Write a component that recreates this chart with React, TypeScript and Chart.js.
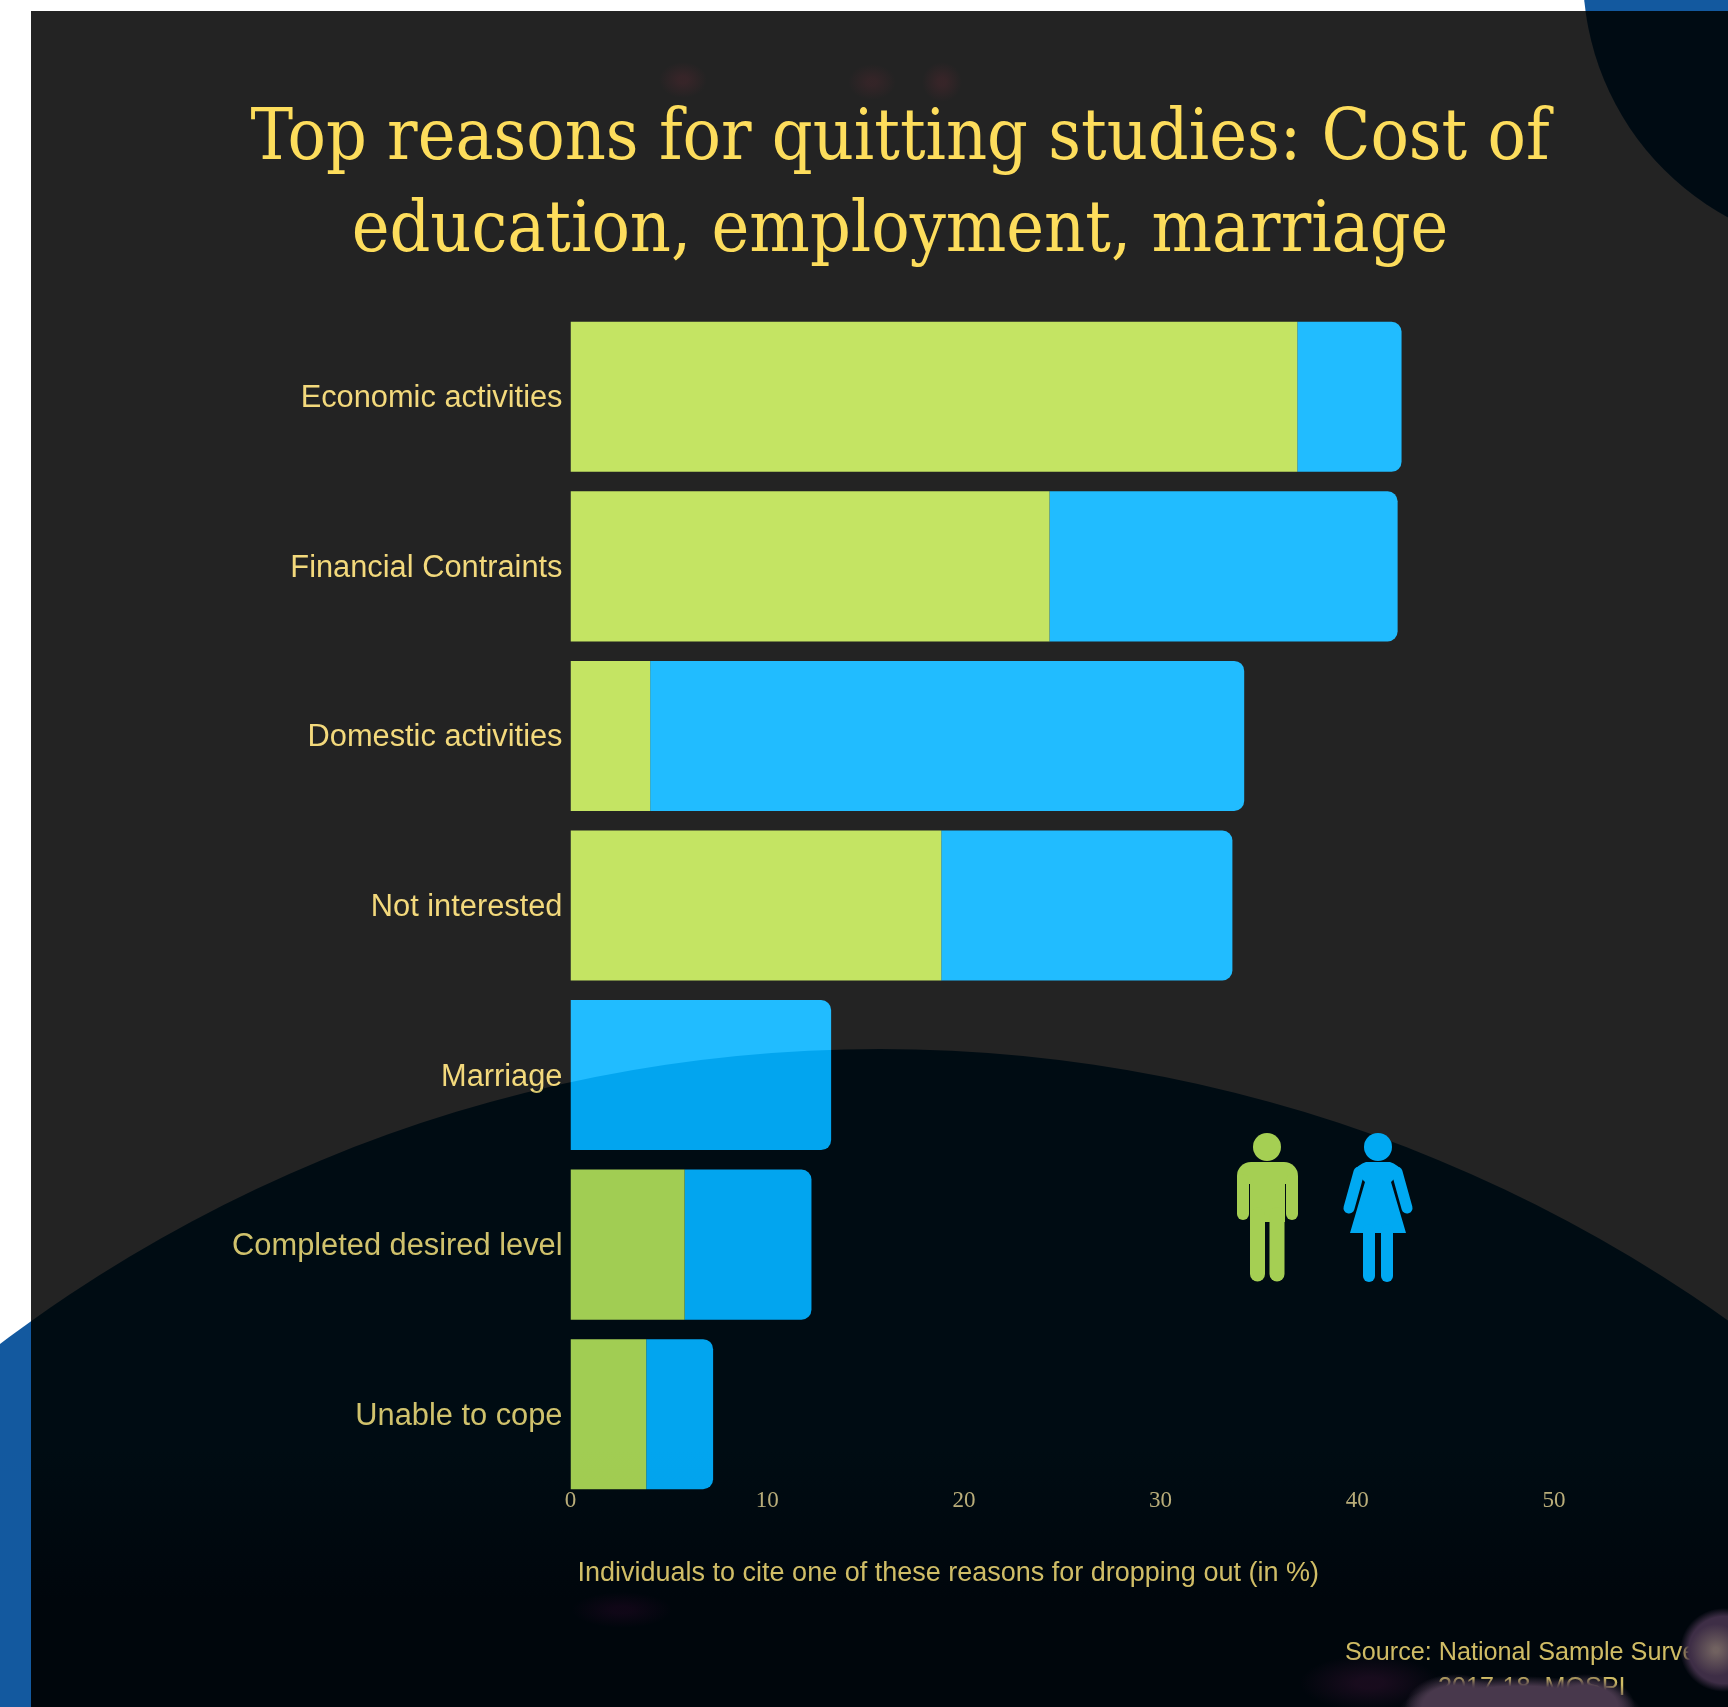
import React, { useEffect, useRef } from "react";
import { Chart, registerables } from "chart.js";

Chart.register(...registerables);

const categories = [
  "Economic activities",
  "Financial Contraints",
  "Domestic activities",
  "Not interested",
  "Marriage",
  "Completed desired level",
  "Unable to cope",
];
const maleShare = [36.95, 24.35, 4.05, 18.85, 0, 5.8, 3.85];
const femaleShare = [5.3, 17.7, 30.2, 14.8, 13.25, 6.45, 3.4];
const xTicks = [0, 10, 20, 30, 40, 50];
const titleLines = ["Top reasons for quitting studies: Cost of", "education, employment, marriage"];
const xAxisTitle = "Individuals to cite one of these reasons for dropping out (in %)";
const sourceLines = ["Source: National Sample Survey", "2017-18, MOSPI"];

const W = 1728;
const H = 1707;
const GOLD = "#f3d97c";
const SANS = "'Liberation Sans', Arial, sans-serif";
const SERIF = "'Liberation Serif', 'Times New Roman', serif";
const TITLE_SERIF = "'DejaVu Serif Condensed', 'DejaVu Serif', serif";

function bigCircle(ctx: CanvasRenderingContext2D) {
  ctx.beginPath();
  ctx.arc(880, 2509, 1460, 0, Math.PI * 2);
}
function cornerCircle(ctx: CanvasRenderingContext2D) {
  ctx.beginPath();
  ctx.arc(1860, -26, 277, 0, Math.PI * 2);
}

function blob(
  ctx: CanvasRenderingContext2D,
  cx: number,
  cy: number,
  rx: number,
  ry: number,
  color: string,
  solidStop: number,
  alpha: number
) {
  ctx.save();
  ctx.translate(cx, cy);
  ctx.scale(rx, ry);
  const g = ctx.createRadialGradient(0, 0, 0, 0, 0, 1);
  g.addColorStop(0, `rgba(${color},${alpha})`);
  g.addColorStop(solidStop, `rgba(${color},${alpha})`);
  g.addColorStop(1, `rgba(${color},0)`);
  ctx.fillStyle = g;
  ctx.beginPath();
  ctx.arc(0, 0, 1, 0, Math.PI * 2);
  ctx.fill();
  ctx.restore();
}

function roundedLine(ctx: CanvasRenderingContext2D, pts: number[][], width: number) {
  ctx.lineWidth = width;
  ctx.lineCap = "round";
  ctx.lineJoin = "round";
  ctx.beginPath();
  pts.forEach((p, i) => (i ? ctx.lineTo(p[0], p[1]) : ctx.moveTo(p[0], p[1])));
  ctx.stroke();
}

function drawMan(ctx: CanvasRenderingContext2D, color: string) {
  ctx.fillStyle = color;
  ctx.strokeStyle = color;
  ctx.beginPath();
  ctx.arc(1267, 1147, 14, 0, Math.PI * 2);
  ctx.fill();
  ctx.beginPath();
  ctx.roundRect(1237, 1162, 61, 22, [14, 14, 0, 0]);
  ctx.fill();
  ctx.fillRect(1250, 1180, 35, 42);
  roundedLine(ctx, [[1243, 1180], [1243, 1214]], 12);
  roundedLine(ctx, [[1292, 1180], [1292, 1214]], 12);
  roundedLine(ctx, [[1257.5, 1215], [1257.5, 1274]], 15);
  roundedLine(ctx, [[1277, 1215], [1277, 1274]], 15);
}

function drawWoman(ctx: CanvasRenderingContext2D, color: string) {
  ctx.fillStyle = color;
  ctx.strokeStyle = color;
  ctx.beginPath();
  ctx.arc(1378, 1147, 14, 0, Math.PI * 2);
  ctx.fill();
  ctx.beginPath();
  ctx.moveTo(1366, 1162);
  ctx.lineTo(1390, 1162);
  ctx.quadraticCurveTo(1398, 1164, 1401, 1172);
  ctx.lineTo(1391, 1182);
  ctx.lineTo(1406, 1233);
  ctx.lineTo(1350, 1233);
  ctx.lineTo(1365, 1182);
  ctx.lineTo(1355, 1172);
  ctx.quadraticCurveTo(1358, 1164, 1366, 1162);
  ctx.closePath();
  ctx.fill();
  roundedLine(ctx, [[1359, 1172], [1349, 1208]], 11);
  roundedLine(ctx, [[1397, 1172], [1407, 1208]], 11);
  roundedLine(ctx, [[1369, 1230], [1369, 1276]], 12);
  roundedLine(ctx, [[1387, 1230], [1387, 1276]], 12);
}

const scenery = {
  id: "scenery",
  beforeDraw(chart: any) {
    const ctx: CanvasRenderingContext2D = chart.ctx;
    ctx.save();
    ctx.fillStyle = "#ffffff";
    ctx.fillRect(0, 0, W, H);
    ctx.fillStyle = "#13599f";
    bigCircle(ctx);
    ctx.fill();
    cornerCircle(ctx);
    ctx.fill();
    ctx.fillStyle = "#232323";
    ctx.fillRect(31, 11, W - 31, H - 11);
    ctx.restore();
  },
  afterDraw(chart: any) {
    const ctx: CanvasRenderingContext2D = chart.ctx;
    const xScale = chart.scales.x;
    ctx.save();

    ctx.fillStyle = GOLD;
    ctx.font = `27px ${SANS}`;
    ctx.textAlign = "left";
    ctx.textBaseline = "alphabetic";
    ctx.fillText(xAxisTitle, xScale.getPixelForValue(0) + 7, 1581);

    ctx.font = `25.2px ${SANS}`;
    ctx.fillText(sourceLines[0], 1345, 1660);
    ctx.fillText(sourceLines[1], 1438, 1695);

    ctx.save();
    ctx.beginPath();
    ctx.rect(31, 11, W - 31, H - 11);
    ctx.clip();
    ctx.globalCompositeOperation = "difference";
    const g = ctx.createLinearGradient(0, 1450, 0, 1600);
    g.addColorStop(0, "rgb(35,23,16)");
    g.addColorStop(1, "rgb(35,29,23)");
    ctx.fillStyle = g;
    bigCircle(ctx);
    ctx.fill();
    ctx.fillStyle = "rgb(35,24,16)";
    cornerCircle(ctx);
    ctx.fill();
    ctx.restore();

    drawMan(ctx, "#a5cf53");
    drawWoman(ctx, "#00a9f2");

    blob(ctx, 683, 80, 24, 18, "90,40,50", 0.2, 0.35);
    blob(ctx, 872, 82, 24, 18, "90,40,50", 0.2, 0.3);
    blob(ctx, 942, 82, 20, 20, "90,40,50", 0.2, 0.35);
    blob(ctx, 622, 1610, 50, 18, "70,10,60", 0.2, 0.22);
    blob(ctx, 1370, 1683, 70, 28, "60,20,55", 0.2, 0.4);
    blob(ctx, 1520, 1712, 122, 36, "72,56,76", 0.72, 1);
    blob(ctx, 1455, 1707, 50, 33, "72,56,76", 0.65, 1);
    blob(ctx, 1585, 1707, 50, 33, "72,56,76", 0.65, 1);
    blob(ctx, 1724, 1650, 44, 42, "62,46,70", 0.8, 1);
    blob(ctx, 1716, 1650, 26, 26, "130,115,105", 0.1, 0.75);
    ctx.restore();
  },
};

export default function App() {
  const ref = useRef<HTMLCanvasElement>(null);

  useEffect(() => {
    if (!ref.current) return;
    const chart = new Chart(ref.current, {
      type: "bar",
      data: {
        labels: categories,
        datasets: [
          {
            label: "Male",
            data: maleShare,
            backgroundColor: "#c4e463",
            borderWidth: 0,
            barPercentage: 0.885,
            categoryPercentage: 1,
          },
          {
            label: "Female",
            data: femaleShare,
            backgroundColor: "#21bcff",
            borderWidth: 0,
            barPercentage: 0.885,
            categoryPercentage: 1,
            borderRadius: { topLeft: 0, bottomLeft: 0, topRight: 10, bottomRight: 10 },
            borderSkipped: false,
          },
        ],
      },
      options: {
        indexAxis: "y",
        responsive: false,
        animation: false,
        devicePixelRatio: 1,
        layout: { padding: { left: 246, right: 174, top: 95, bottom: 168 } },
        plugins: {
          legend: { display: false },
          tooltip: { enabled: false },
          title: {
            display: true,
            text: titleLines,
            color: "#fddd5c",
            font: { family: TITLE_SERIF, size: 71, weight: "normal", lineHeight: 92 / 71 },
            padding: { top: 0, bottom: 33 },
          },
        },
        scales: {
          x: {
            stacked: true,
            min: 0,
            max: 50,
            grid: { display: false, drawTicks: false },
            border: { display: false },
            afterBuildTicks(scale: any) {
              scale.ticks = xTicks.map((value) => ({ value }));
            },
            afterFit(scale: any) {
              scale.height = 40;
              scale._computeLabelArea = () => undefined;
            },
            ticks: {
              color: "#dcc68c",
              padding: -12,
              maxRotation: 0,
              font: { family: SERIF, size: 23 },
            },
          },
          y: {
            stacked: true,
            grid: { display: false, drawTicks: false },
            border: { display: false },
            afterFit(scale: any) {
              scale.width = 324.5;
              scale._computeLabelArea = () => undefined;
              if (!scale._nudged) {
                scale._nudged = true;
                const compute = scale._computeLabelItems.bind(scale);
                scale._computeLabelItems = (area: any) =>
                  compute(area).map((item: any) => ({
                    ...item,
                    textOffset: item.textOffset + 2,
                  }));
              }
            },
            ticks: {
              color: GOLD,
              padding: 8,
              font: { family: SANS, size: 30.8 },
            },
          },
        },
      },
      plugins: [scenery],
    } as any);
    return () => chart.destroy();
  }, []);

  return (
    <div style={{ position: "absolute", left: 0, top: 0, width: W, height: H, overflow: "hidden" }}>
      <canvas ref={ref} width={W} height={H} style={{ display: "block", width: W, height: H }} />
    </div>
  );
}
